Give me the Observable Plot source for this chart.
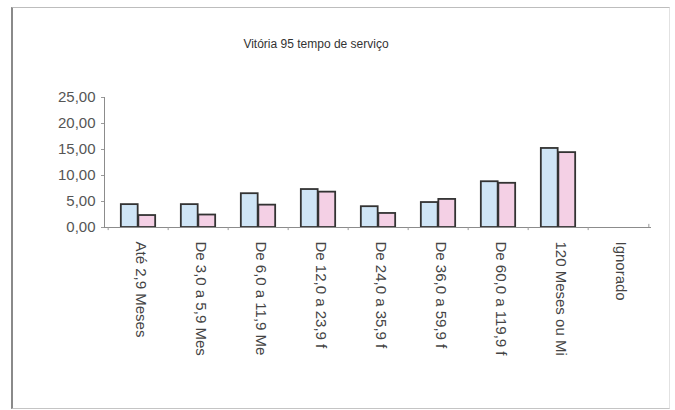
<!DOCTYPE html>
<html>
<head>
<meta charset="utf-8">
<script src="https://cdn.jsdelivr.net/npm/d3@7"></script>
<script src="https://cdn.jsdelivr.net/npm/@observablehq/plot@0.6"></script>
<style>
  html, body { margin: 0; padding: 0; background: #fff; }
  body { width: 675px; height: 410px; position: relative; overflow: hidden; font-family: "Liberation Sans", Arial, sans-serif; }
  #frame { position: absolute; left: 11px; top: 7px; width: 656px; height: 400px;
           border-left: 2px solid #8a8a8a; border-top: 1px solid #bdbdbd; border-bottom: 1px solid #c4c4c4; border-right: 1px solid #e2e2e2; }
  #title { position: absolute; left: 0; top: 37px; width: 632px; text-align: center; font-size: 12px; color: #333; }
  #chart { position: absolute; left: 0; top: 60px; }
</style>
</head>
<body>
<div id="frame"></div>
<div id="title">Vitória 95 tempo de serviço</div>
<div id="chart"></div>
<script>
const categories = ["Até 2,9 Meses", "De 3,0 a 5,9 Mes", "De 6,0 a 11,9 Me", "De 12,0 a 23,9 f", "De 24,0 a 35,9 f", "De 36,0 a 59,9 f", "De 60,0 a 119,9 f", "120 Meses ou Mi", "Ignorado"];
const seriesA = [4.4, 4.4, 6.5, 7.3, 4.0, 4.8, 8.8, 15.2, null];
const seriesB = [2.3, 2.4, 4.3, 6.8, 2.7, 5.4, 8.5, 14.4, null];
const yTicks = [0, 5, 10, 15, 20, 25];

const dataA = categories.map((c, i) => ({cat: c, v: seriesA[i]})).filter(d => d.v != null);
const dataB = categories.map((c, i) => ({cat: c, v: seriesB[i]})).filter(d => d.v != null);

const W = 675, H = 350, mL = 105, mR = 24;
const step = (W - mL - mR) / categories.length;
const half = step / 2, bw = 17.5;

const fmt = d => d.toFixed(2).replace(".", ",");

const chart = Plot.plot({
  width: W,
  height: H,
  marginLeft: mL,
  marginRight: mR,
  marginTop: 37,
  marginBottom: 183,
  style: {fontFamily: "'Liberation Sans', Arial, sans-serif", fontSize: "15px", color: "#555", background: "transparent"},
  x: {domain: categories, padding: 0, label: null},
  y: {domain: [0, 25], label: null},
  marks: [
    Plot.frame({anchor: "left", stroke: "#8c8c8c", dx: -1}),
    Plot.axisY({ticks: yTicks, tickFormat: fmt, tickSize: 3, tickPadding: 6, stroke: "#9a9a9a", label: null, fill: "#555", fontSize: 15, dx: -1}),
    Plot.barY(dataA, {x: "cat", y: "v", fill: "#cfe5f6", stroke: "#333", strokeWidth: 1.8,
      insetLeft: half - bw, insetRight: half}),
    Plot.barY(dataB, {x: "cat", y: "v", fill: "#f4d0e5", stroke: "#333", strokeWidth: 1.8,
      insetLeft: half, insetRight: half - bw}),
    Plot.ruleY([0], {stroke: "#8c8c8c", strokeWidth: 1}),
    Plot.ruleX(categories, {x: d => d, y1: 0, y2: -0.6, dx: -half, stroke: "#9a9a9a"}),
    Plot.ruleX([categories[categories.length - 1]], {x: d => d, y1: 0, y2: 0.6, dx: half, stroke: "#9a9a9a"}),
    Plot.axisX({tickSize: 0, tickPadding: 14, tickRotate: 90, label: null, fill: "#444", fontSize: 15, dx: 2})
  ]
});
document.getElementById("chart").appendChild(chart);
</script>
</body>
</html>
